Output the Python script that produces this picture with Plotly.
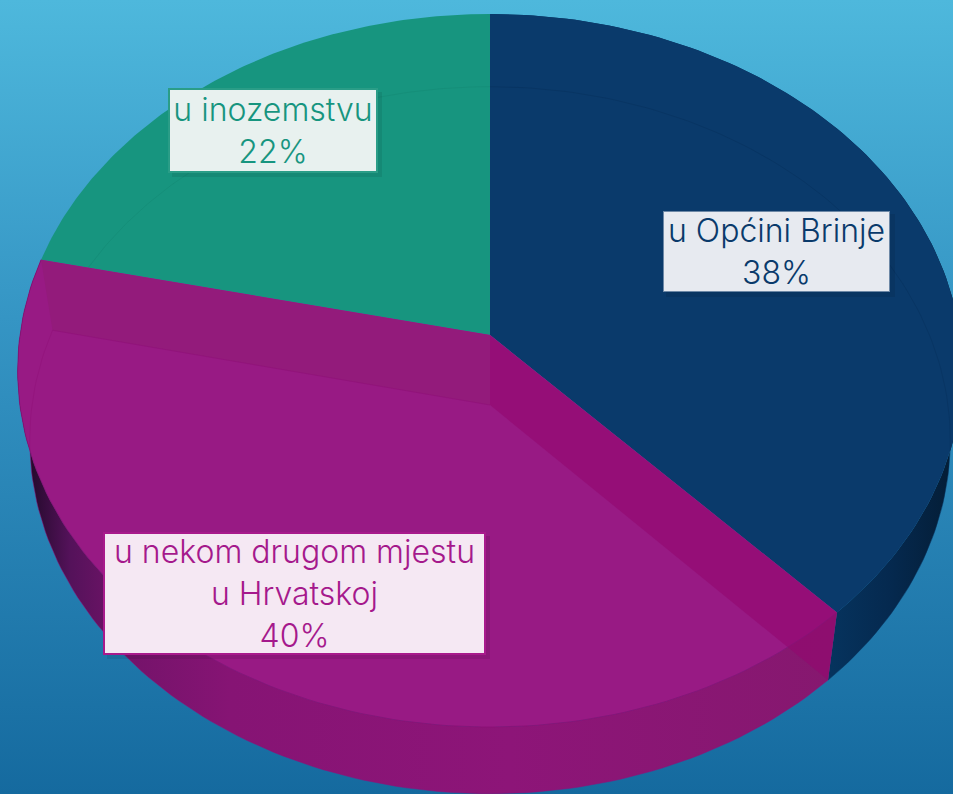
import numpy as np
import plotly.graph_objects as go

W, H = 953, 794

# chart data, clockwise from 12 o'clock
CATEGORIES = ['u Općini Brinje', 'u nekom drugom mjestu<br>u Hrvatskoj', 'u inozemstvu']
SHARES = [38.0, 40.5, 21.5]
SHARE_LABELS = ['38%', '40%', '22%']

NAVY = '#0a3a6b'
PINK = '#981a84'
TEAL = '#17957f'

# perspective of the tilted disc: apex and radii of top and bottom face
CX = 490
TOP_Y, BOTTOM_Y = 335, 405
TOP_A, TOP_B = 470, 353
BOTTOM_A, BOTTOM_B = 458, 350
K = 0.0996


def project(deg, bottom=False):
    phi = np.radians(deg)
    u, v = np.sin(phi), -np.cos(phi)
    a, b, y0 = (BOTTOM_A, BOTTOM_B, BOTTOM_Y) if bottom else (TOP_A, TOP_B, TOP_Y)
    return CX + a * u / (1 - K * v), y0 + b * v / (1 - K * v)


def arc(d0, d1, bottom=False, n=120):
    return project(np.linspace(d0, d1, n), bottom)


def poly(x, y, color=None, gradient=None):
    tr = go.Scatter(x=np.append(x, x[0]), y=np.append(y, y[0]), mode='lines', fill='toself',
                    line=dict(width=0), hoverinfo='skip', showlegend=False)
    if gradient:
        tr.fillgradient = gradient
    else:
        tr.fillcolor = color
    return tr


def stroke(x, y, color, width=1):
    return go.Scatter(x=x, y=y, mode='lines', line=dict(color=color, width=width),
                      hoverinfo='skip', showlegend=False)


edges = np.cumsum([0] + SHARES) * 3.6
navy0, navy1 = edges[0], edges[1]
pink0, pink1 = edges[1], edges[2]
teal0, teal1 = edges[2], edges[3]

fig = go.Figure()

# slide background
fig.add_trace(poly(np.array([0, W, W, 0]), np.array([0, 0, H, H]),
                   gradient=dict(type='vertical', start=0, stop=H,
                                 colorscale=[[0, '#4eb8dc'], [0.4, '#3595c4'], [1, '#156a9f']])))

# outer walls
tx, ty = arc(navy0, navy1)
bx, by = arc(navy1, navy0, bottom=True)
fig.add_trace(poly(np.concatenate([tx, bx]), np.concatenate([ty, by]),
                   gradient=dict(type='horizontal', start=820, stop=960,
                                 colorscale=[[0, '#063560'], [0.5, '#05294f'], [1, '#041c33']])))
tx, ty = arc(pink0, pink1)
bx, by = arc(pink1, pink0, bottom=True)
fig.add_trace(poly(np.concatenate([tx, bx]), np.concatenate([ty, by]),
                   gradient=dict(type='horizontal', start=30, stop=830,
                                 colorscale=[[0, '#240a2c'], [0.05, '#54125a'], [0.12, '#74136a'],
                                             [0.25, '#861474'], [0.6, '#8d1578'], [1, '#86186f']])))

# top faces
for d0, d1, col in [(navy0, navy1, NAVY), (teal0, teal1, TEAL)]:
    x, y = arc(d0, d1)
    fig.add_trace(poly(np.append(x, CX), np.append(y, TOP_Y), col))

# floor rim seen through the navy and teal slices
x, y = arc(teal0, teal1, bottom=True)
fig.add_trace(stroke(x, y, 'rgba(15,125,105,0.25)'))
x, y = arc(navy0, navy1, bottom=True)
fig.add_trace(stroke(x, y, 'rgba(6,48,92,0.5)'))

# pink top face with the inner walls behind it
x, y = arc(pink0, pink1)
fig.add_trace(poly(np.append(x, CX), np.append(y, TOP_Y), PINK))
xa, ya = project(pink1)
xb, yb = project(pink1, bottom=True)
fig.add_trace(poly(np.array([CX, xa, xb, CX]), np.array([TOP_Y, ya, yb, BOTTOM_Y]), '#931b7b'))
xa, ya = project(pink0)
xb, yb = project(pink0, bottom=True)
fig.add_trace(poly(np.array([CX, xa, xb, CX]), np.array([TOP_Y, ya, yb, BOTTOM_Y]),
                   'rgba(147,8,112,0.62)'))

# slice edges
x, y = arc(pink0, pink1, bottom=True)
fig.add_trace(stroke(x, y, 'rgba(143,16,120,0.5)'))
x, y = arc(pink0, pink1)
fig.add_trace(stroke(x, y, 'rgba(138,15,116,0.8)'))
xb, yb = project(pink1, bottom=True)
fig.add_trace(stroke(np.array([xb, CX]), np.array([yb, BOTTOM_Y]), 'rgba(143,16,120,0.6)'))

# data labels
boxes = [
    (776.5, 251.5, 227, 81, NAVY, '#e7eaf0', '#6d88a6', 1),
    (294.5, 593.5, 381, 121, '#a5198c', '#f5e8f3', '#a81a8c', 2),
    (273, 130.5, 208, 83, TEAL, '#e8f1ef', '#2a9d87', 2),
]
for cat, pct, (bx0, by0, bw, bh, txt, bg, border, bwid) in zip(CATEGORIES, SHARE_LABELS, boxes):
    fig.add_shape(type='rect', x0=bx0 - bw / 2 + 3, x1=bx0 + bw / 2 + 5, y0=by0 - bh / 2 + 3, y1=by0 + bh / 2 + 5,
                  fillcolor='rgba(0,0,0,0.08)', line_width=0, layer='above')
    fig.add_annotation(x=bx0, y=by0, xref='x', yref='y', text=f'{cat}<br>{pct}', showarrow=False,
                       width=bw - 2, height=bh - 2, align='center', valign='middle',
                       bgcolor=bg, bordercolor=border, borderwidth=bwid, borderpad=0,
                       font=dict(family='Inter, sans-serif', size=32, color=txt, weight=300))

fig.update_layout(
    width=W, height=H,
    margin=dict(l=0, r=0, t=0, b=0),
    paper_bgcolor='#3595c4', plot_bgcolor='rgba(0,0,0,0)',
    showlegend=False,
    xaxis=dict(range=[0, W], visible=False, fixedrange=True),
    yaxis=dict(range=[H, 0], visible=False, fixedrange=True),
)

# the default page margin would push the figure off by 8px
fig.write_html("out.html", config=dict(displayModeBar=False),
               post_script="document.body.style.margin='0';document.body.style.overflow='hidden';")
